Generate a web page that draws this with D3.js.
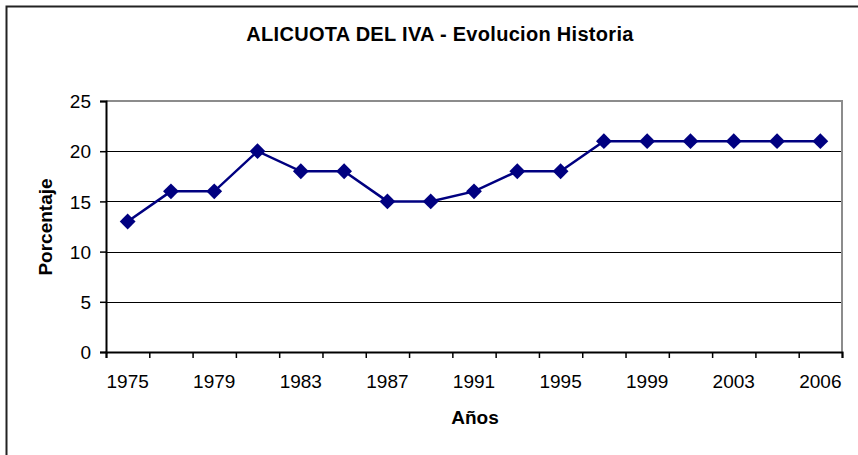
<!DOCTYPE html>
<html>
<head>
<meta charset="utf-8">
<script src="https://cdn.jsdelivr.net/npm/d3@7"></script>
<style>
  body { margin: 0; background: #fff; }
  text { font-family: "Liberation Sans", Arial, sans-serif; fill: #000; }
</style>
</head>
<body>
<script>
// data
const years = ['1975', '1977', '1979', '1981', '1983', '1985', '1987', '1989', '1991',
    '1993', '1995', '1997', '1999', '2001', '2003', '2005', '2006'];
const alicuota = [13, 16, 16, 20, 18, 18, 15, 15, 16, 18, 18, 21, 21, 21, 21, 21, 21];
const shownYears = ['1975', '1979', '1983', '1987', '1991', '1995', '1999', '2003', '2006'];
const yTicks = [0, 5, 10, 15, 20, 25];

const W = 858, H = 455;
const margin = { top: 101, bottom: 103, left: 106, right: 16 };
const width = W - margin.left - margin.right;
const height = H - margin.top - margin.bottom;

const svg = d3.select('body').append('svg')
    .attr('width', W)
    .attr('height', H);

// outer chart border (right / bottom fall outside the picture)
svg.append('rect')
    .attr('x', 6.5).attr('y', 6.5)
    .attr('width', W + 20).attr('height', H + 20)
    .attr('fill', 'none').attr('stroke', '#222').attr('stroke-width', 2);

svg.append('text')
    .attr('x', 440).attr('y', 41)
    .attr('text-anchor', 'middle')
    .style('font-size', '20px').style('font-weight', 'bold')
    .style('letter-spacing', '0.3px')
    .text('ALICUOTA DEL IVA - Evolucion Historia');

const g = svg.append('g')
    .attr('transform', `translate(${margin.left},${margin.top})`);

const xscale = d3.scaleBand().domain(years).range([0, width]);
const xedge = d3.scaleLinear().domain([0, years.length]).range([0, width]);
const yscale = d3.scaleLinear().domain([0, 25]).range([height, 0]);

// gridlines
g.selectAll('line.grid')
    .data(yTicks.filter((d) => d > 0 && d < 25))
    .join('line')
    .attr('class', 'grid')
    .attr('x1', 0).attr('x2', width)
    .attr('y1', (d) => Math.round(yscale(d)) + 0.5)
    .attr('y2', (d) => Math.round(yscale(d)) + 0.5)
    .attr('stroke', '#000').attr('stroke-width', 1);

// plot area border (top and right, grey)
g.append('path')
    .attr('d', `M0,${yscale(25)}H${width}V${height}`)
    .attr('fill', 'none').attr('stroke', '#8c8c8c').attr('stroke-width', 2);

// y axis
const yaxis = d3.axisLeft(yscale).tickValues(yTicks).tickSize(6).tickPadding(9);
const g_yaxis = g.append('g').call(yaxis);
g_yaxis.select('.domain').attr('stroke', '#000').attr('stroke-width', 2);
g_yaxis.selectAll('.tick line').attr('stroke', '#000').attr('stroke-width', 1.5);
g_yaxis.selectAll('text').style('font-size', '19px').attr('dy', '0.35em');

// x axis: ticks on category boundaries, labels every other category
const xaxis = d3.axisBottom(xedge).tickValues(d3.range(years.length + 1))
    .tickFormat('').tickSize(6).tickSizeOuter(6);
const g_xaxis = g.append('g').attr('transform', `translate(0,${height})`).call(xaxis);
g_xaxis.select('.domain').attr('stroke', '#000').attr('stroke-width', 2);
g_xaxis.selectAll('.tick line').attr('stroke', '#000').attr('stroke-width', 1.5);

g.selectAll('text.xlab')
    .data(shownYears)
    .join('text')
    .attr('class', 'xlab')
    .attr('x', (d) => xscale(d) + xscale.bandwidth() / 2)
    .attr('y', height + 36)
    .attr('text-anchor', 'middle')
    .style('font-size', '19px')
    .text((d) => d);

// axis titles
svg.append('text')
    .attr('x', 475).attr('y', 424)
    .attr('text-anchor', 'middle')
    .style('font-size', '19px').style('font-weight', 'bold')
    .text('Años');

svg.append('text')
    .attr('transform', 'translate(52,227) rotate(-90)')
    .attr('text-anchor', 'middle')
    .style('font-size', '19px').style('font-weight', 'bold')
    .text('Porcentaje');

// line + markers
const data = years.map((y, i) => ({ year: y, value: alicuota[i] }));
const line = d3.line()
    .x((d) => xscale(d.year) + xscale.bandwidth() / 2)
    .y((d) => yscale(d.value));

g.append('path')
    .datum(data)
    .attr('d', line)
    .attr('fill', 'none')
    .attr('stroke', '#000080')
    .attr('stroke-width', 2.5);

g.selectAll('path.marker')
    .data(data)
    .join('path')
    .attr('class', 'marker')
    .attr('d', d3.symbol(d3.symbolSquare, 125))
    .attr('transform', (d) => `translate(${xscale(d.year) + xscale.bandwidth() / 2},${yscale(d.value)}) rotate(45)`)
    .attr('fill', '#000080');
</script>
</body>
</html>
